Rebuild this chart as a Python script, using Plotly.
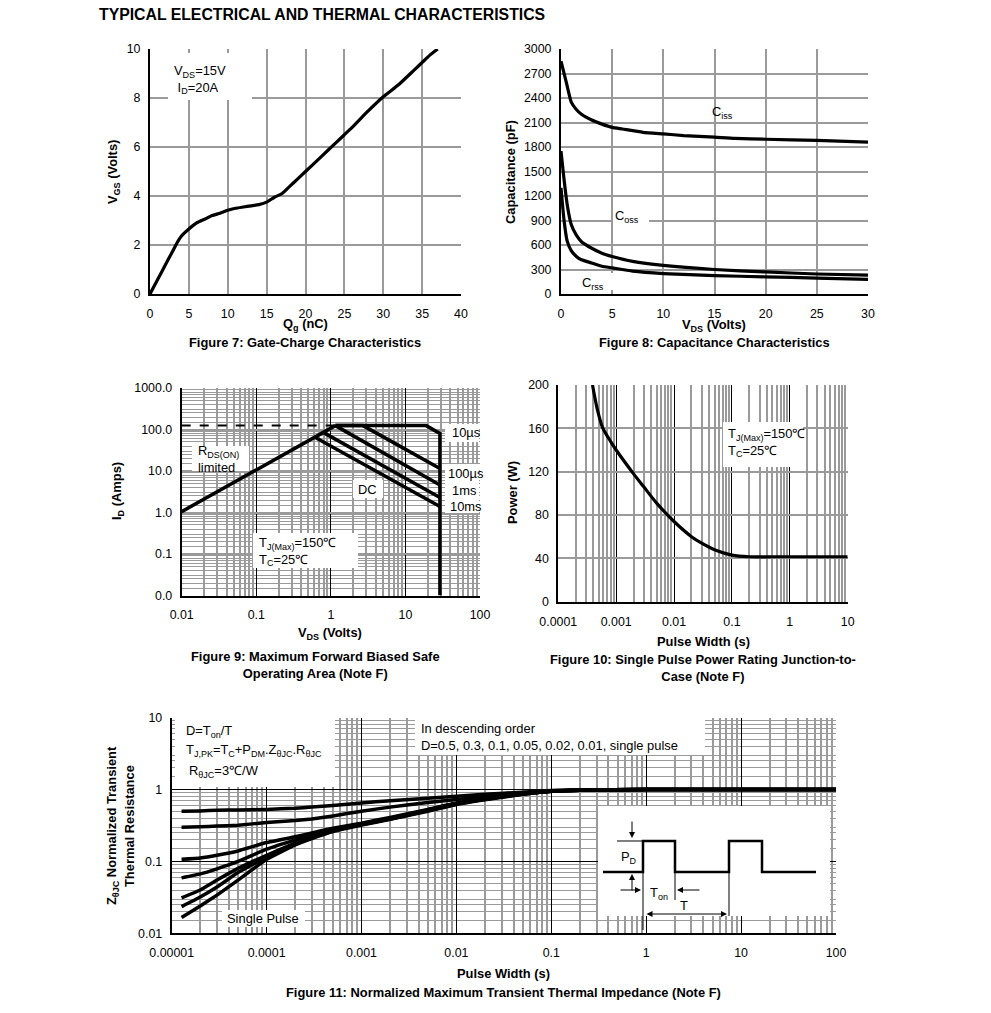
import plotly.graph_objects as go

W, H = 991, 1013
OFF = 8                      # page body margin of the browser
FW, FH = W - OFF, H - OFF    # figure size so the page does not overflow

# ---------------- data ----------------
# Figure 7: gate charge
qg_nc = [0, 1, 2, 3, 3.5, 4, 5, 6, 7, 8, 9, 10, 11, 12, 13, 14, 15, 16, 17, 18, 19, 20,
         22, 24, 25, 26, 28, 30, 32, 34, 35, 36, 37]
vgs_v = [0, 0.6, 1.2, 1.8, 2.1, 2.35, 2.65, 2.9, 3.05, 3.2, 3.3, 3.42, 3.5, 3.55, 3.6, 3.65,
         3.75, 3.95, 4.1, 4.4, 4.7, 5.0, 5.6, 6.2, 6.5, 6.8, 7.45, 8.05, 8.55, 9.15, 9.45, 9.75, 10.0]

# Figure 8: capacitance
vds_ciss = [0, 0.5, 1, 1.5, 2, 3, 4, 5, 6, 8, 10, 12, 15, 17, 20, 25, 30]
ciss_pf = [2850, 2600, 2350, 2260, 2200, 2130, 2080, 2040, 2020, 1980, 1960, 1940, 1920, 1905, 1895, 1880, 1860]
vds_oss = [0, 0.3, 0.6, 1, 1.5, 2, 3, 4, 5, 7, 10, 15, 20, 25, 30]
coss_pf = [1750, 1400, 1100, 850, 720, 640, 560, 500, 460, 400, 350, 300, 270, 245, 230]
crss_pf = [1300, 900, 650, 530, 460, 420, 380, 340, 320, 280, 250, 225, 210, 195, 180]

# Figure 9: SOA
rds_v, rds_i = [0.01, 1.15], [1.05, 124]
lim_v, lim_i = [0.01, 1.15], [124, 124]
us10_v, us10_i = [1.15, 19, 29, 29], [124, 124, 80, 0.01]
us100_v, us100_i = [1.15, 2.7, 29], [124, 124, 11.5]
ms1_v, ms1_i = [1.15, 29], [124, 4.6]
ms10_v, ms10_i = [0.8, 29], [84, 2.3]
dc_v, dc_i = [0.62, 29], [64, 1.4]

# Figure 10: single pulse power
pw_s = [0.00039, 0.00047, 0.00058, 0.0008, 0.001, 0.002, 0.003, 0.005, 0.01, 0.02, 0.03,
        0.05, 0.1, 0.2, 0.5, 1, 10]
pw_w = [200, 178, 161, 148, 140, 118, 106, 91, 74, 60, 54, 48, 43, 41.5, 41.5, 41.5, 41.5]

# Figure 11: transient thermal impedance
zt_s = [1.27e-5, 2e-5, 3e-5, 5e-5, 1e-4, 2e-4, 3e-4, 5e-4, 1e-3, 2e-3, 5e-3, 1e-2, 2e-2,
        5e-2, 1e-1, 0.2, 1, 10, 100]
z_d05 = [0.50, 0.505, 0.515, 0.52, 0.53, 0.55, 0.57, 0.60, 0.65, 0.70, 0.76, 0.81, 0.86, 0.92, 0.97, 0.99, 1.0, 1.0, 1.0]
z_d03 = [0.30, 0.305, 0.31, 0.32, 0.347, 0.37, 0.39, 0.43, 0.50, 0.57, 0.66, 0.73, 0.80, 0.90, 0.96, 0.99, 1.0, 1.0, 1.0]
z_d01 = [0.107, 0.112, 0.122, 0.14, 0.183, 0.22, 0.25, 0.29, 0.34, 0.41, 0.53, 0.65, 0.75, 0.88, 0.95, 0.98, 1.0, 1.0, 1.0]
z_d005 = [0.059, 0.067, 0.079, 0.10, 0.148, 0.20, 0.235, 0.28, 0.335, 0.40, 0.52, 0.64, 0.74, 0.87, 0.95, 0.98, 1.0, 1.0, 1.0]
z_d002 = [0.031, 0.040, 0.055, 0.08, 0.122, 0.18, 0.22, 0.27, 0.33, 0.39, 0.51, 0.63, 0.73, 0.87, 0.95, 0.98, 1.0, 1.0, 1.0]
z_d001 = [0.0235, 0.032, 0.044, 0.07, 0.115, 0.175, 0.215, 0.265, 0.325, 0.39, 0.51, 0.63, 0.73, 0.87, 0.95, 0.98, 1.0, 1.0, 1.0]
z_single = [0.0166, 0.024, 0.034, 0.055, 0.107, 0.17, 0.208, 0.26, 0.32, 0.385, 0.50, 0.62, 0.72, 0.86, 0.95, 0.98, 1.0, 1.0, 1.0]

# tick labels
f9_xticks = [0.01, 0.1, 1, 10, 100]
f9_xtext = ["0.01", "0.1", "1", "10", "100"]
f9_yticks = [0.01, 0.1, 1, 10, 100, 1000]
f9_ytext = ["0.0", "0.1", "1.0", "10.0", "100.0", "1000.0"]
f10_xticks = [0.0001, 0.001, 0.01, 0.1, 1, 10]
f10_xtext = ["0.0001", "0.001", "0.01", "0.1", "1", "10"]
f11_xticks = [1e-5, 1e-4, 1e-3, 1e-2, 1e-1, 1, 10, 100]
f11_xtext = ["0.00001", "0.0001", "0.001", "0.01", "0.1", "1", "10", "100"]
f11_yticks = [0.01, 0.1, 1, 10]
f11_ytext = ["0.01", "0.1", "1", "10"]


# ---------------- helpers (window pixel -> paper fraction) ----------------
def px(x):
    return (x - OFF) / FW


def py(y):
    return 1 - (y - OFF) / FH


def minors(lo_exp, hi_exp, steps=range(2, 10)):
    return [m * 10.0 ** e for e in range(lo_exp, hi_exp) for m in steps]


FONT = "Liberation Sans, Arial, sans-serif"
GRID = "#9a9a9a"
TXT = 12.9

fig = go.Figure()


def line(x, y, ax, width=3.2, dash="solid", shape="spline", smooth=0.5):
    ln = dict(color="black", width=width, dash=dash, shape=shape)
    if shape == "spline":
        ln["smoothing"] = smooth
    fig.add_trace(go.Scatter(x=x, y=y, mode="lines", xaxis="x" + ax, yaxis="y" + ax,
                             line=ln, hoverinfo="skip"))


line(qg_nc, vgs_v, "", 3.2)
line(vds_ciss, ciss_pf, "2", 3.2)
line(vds_oss, coss_pf, "2", 3.2)
line(vds_oss, crss_pf, "2", 3.2)
for xs, ys in [(rds_v, rds_i), (us10_v, us10_i), (us100_v, us100_i), (ms1_v, ms1_i),
               (ms10_v, ms10_i), (dc_v, dc_i)]:
    line(xs, ys, "3", 3.5, shape="linear")
line(lim_v, lim_i, "3", 2, dash="dash", shape="linear")
line(pw_s, pw_w, "4", 3.2, smooth=0.8)
for zz in [z_d05, z_d03, z_d01, z_d005, z_d002, z_d001, z_single]:
    line(zt_s, zz, "5", 3.5, smooth=0.3)


def dom_x(l, r):
    return [px(l), px(r)]


def dom_y(t, b):
    return [py(b), py(t)]


base = dict(showline=True, linecolor="black", linewidth=2, ticks="", zeroline=False,
            automargin=False, tickfont=dict(size=12.4, color="black", family=FONT), showgrid=True)

fig.update_layout(
    template="none",
    xaxis=dict(base, domain=dom_x(150, 461), range=[0, 40], dtick=5, tick0=0, anchor="y",
               gridcolor=GRID, gridwidth=2, ticklabelstandoff=7),
    yaxis=dict(base, domain=dom_y(49, 294), range=[0, 10], dtick=2, tick0=0, anchor="x",
               gridcolor=GRID, gridwidth=2, ticklabelstandoff=5),
    xaxis2=dict(base, domain=dom_x(561, 868), range=[0, 30], dtick=5, tick0=0, anchor="y2",
                gridcolor=GRID, gridwidth=2, ticklabelstandoff=7),
    yaxis2=dict(base, domain=dom_y(49, 294), range=[0, 3000], dtick=300, tick0=0, anchor="x2",
                gridcolor=GRID, gridwidth=2, ticklabelstandoff=5),
    xaxis3=dict(base, type="log", domain=dom_x(181.7, 480), range=[-2, 2], anchor="y3",
                tickvals=f9_xticks, ticktext=f9_xtext, gridcolor="black", gridwidth=1,
                minor=dict(tickvals=minors(-2, 2), showgrid=True, gridcolor=GRID, gridwidth=1.5),
                ticklabelstandoff=7),
    yaxis3=dict(base, type="log", domain=dom_y(388, 595.5), range=[-2, 3], anchor="x3",
                tickvals=f9_yticks, ticktext=f9_ytext, gridcolor=GRID, gridwidth=1.5,
                minor=dict(tickvals=minors(-2, 3, [1.5, 2, 2.5, 3, 4, 5, 6, 7, 8, 9]),
                           showgrid=True, gridcolor=GRID, gridwidth=1.2),
                ticklabelstandoff=5),
    xaxis4=dict(base, type="log", domain=dom_x(558.3, 847.7), range=[-4, 1], anchor="y4",
                tickvals=f10_xticks, ticktext=f10_xtext, gridcolor="black", gridwidth=1,
                minor=dict(tickvals=minors(-4, 1), showgrid=True, gridcolor=GRID, gridwidth=2),
                ticklabelstandoff=7),
    yaxis4=dict(base, domain=dom_y(385, 601.7), range=[0, 200], dtick=40, tick0=0, anchor="x4",
                gridcolor=GRID, gridwidth=2, ticklabelstandoff=5),
    xaxis5=dict(base, type="log", domain=dom_x(171.7, 836), range=[-5, 2], anchor="y5",
                tickvals=f11_xticks, ticktext=f11_xtext, gridcolor="black", gridwidth=1,
                minor=dict(tickvals=minors(-5, 2), showgrid=True, gridcolor=GRID, gridwidth=1.5),
                ticklabelstandoff=7),
    yaxis5=dict(base, type="log", domain=dom_y(717.7, 933.3), range=[-2, 1], anchor="x5",
                tickvals=f11_yticks, ticktext=f11_ytext, gridcolor="black", gridwidth=1,
                minor=dict(tickvals=minors(-2, 1, [1.5, 2, 2.5, 3, 4, 5, 6, 7, 8, 9]),
                           showgrid=True, gridcolor=GRID, gridwidth=1.2),
                ticklabelstandoff=5),
)

shapes = []


def box(x0, y0, x1, y1):
    shapes.append(dict(type="rect", xref="paper", yref="paper", x0=px(x0), x1=px(x1),
                       y0=py(y1), y1=py(y0), fillcolor="white", line=dict(width=0), layer="above"))


def seg(x0, y0, x1, y1, w=1):
    shapes.append(dict(type="line", xref="paper", yref="paper", x0=px(x0), x1=px(x1),
                       y0=py(y0), y1=py(y1), line=dict(color="black", width=w), layer="above"))


# white label boxes
box(168, 53, 252, 100)          # fig7
box(613, 206, 649, 227)         # Coss
box(580, 273, 613, 290)         # Crss
box(192, 446, 249, 471)         # Rds(on)
box(353, 480, 383, 498)         # DC
box(253, 533, 358, 568)         # Tj fig9
box(445, 424, 479, 442)         # 10us
box(445, 464, 479, 513)         # 100us..10ms
box(723, 422, 803, 467)         # Tj fig10
box(175, 718, 335, 787)         # fig11 notes
box(415, 717, 705, 755)         # descending order
box(222, 910, 305, 927)         # single pulse
box(598, 806, 830, 916)         # inset

# inset pulse diagram
pts = [(603, 872), (643, 872), (643, 841), (675, 841), (675, 872), (729, 872), (729, 841),
       (762, 841), (762, 872), (816, 872)]
path = "M" + " L".join(f"{px(a):.5f},{py(b):.5f}" for a, b in pts)
shapes.append(dict(type="path", xref="paper", yref="paper", path=path,
                   line=dict(color="black", width=2.5), layer="above"))
seg(617, 841, 643, 841)
seg(643, 872, 643, 930)
seg(675, 872, 675, 900)
seg(729, 872, 729, 916)

fig.update_layout(shapes=shapes)

ann = []


def text(x, y, t, size=TXT, bold=False, xanchor="center", yanchor="middle", angle=0, align="center"):
    if bold:
        t = "<b>" + t + "</b>"
    ann.append(dict(x=px(x), y=py(y), xref="paper", yref="paper", text=t, showarrow=False,
                    font=dict(size=size, color="black", family=FONT), xanchor=xanchor,
                    yanchor=yanchor, textangle=angle, align=align))


def arrow(hx, hy, tx, ty, side="end"):
    ann.append(dict(x=px(hx), y=py(hy), xref="paper", yref="paper", text="", showarrow=True,
                    ax=tx - hx, ay=ty - hy, arrowhead=2, arrowsize=1.2, arrowwidth=1,
                    arrowcolor="black", arrowside=side, standoff=0, startstandoff=0,
                    startarrowhead=2, startarrowsize=1.2))


text(97, 14.5, "TYPICAL ELECTRICAL AND THERMAL CHARACTERISTICS", size=15.8, bold=True, xanchor="left")

# fig 7
text(305, 325, "Q<sub>g</sub> (nC)", bold=True)
text(113, 172, "V<sub>GS</sub> (Volts)", bold=True, angle=-90)
text(305, 343, "Figure 7: Gate-Charge Characteristics", bold=True)
text(172, 80, "V<sub>DS</sub>=15V<br> I<sub>D</sub>=20A", xanchor="left", align="left")

# fig 8
text(714, 326, "V<sub>DS</sub> (Volts)", bold=True)
text(510, 172, "Capacitance (pF)", bold=True, angle=-90)
text(714, 343, "Figure 8: Capacitance Characteristics", bold=True)
text(722, 113, "C<sub>iss</sub>")
text(627, 216, "C<sub>oss</sub>")
text(593, 283, "C<sub>rss</sub>")

# fig 9
text(330, 633, "V<sub>DS</sub> (Volts)", bold=True)
text(118, 491, "I<sub>D</sub> (Amps)", bold=True, angle=-90)
text(315, 665, "Figure 9: Maximum Forward Biased Safe<br>Operating Area (Note F)", bold=True)
text(196, 459, "R<sub>DS(ON)</sub><br>limited", xanchor="left", align="left")
text(367, 489, "DC")
text(257, 551, "T<sub>J(Max)</sub>=150℃<br>T<sub>C</sub>=25℃", xanchor="left", align="left")
text(450, 433, "10µs", xanchor="left")
text(446, 473, "100µs", xanchor="left")
text(450, 490, "1ms", xanchor="left")
text(448, 506, "10ms", xanchor="left")

# fig 10
text(703, 641, "Pulse Width (s)", bold=True)
text(512, 493, "Power (W)", bold=True, angle=-90)
text(703, 668, "Figure 10: Single Pulse Power Rating Junction-to-<br>Case (Note F)", bold=True)
text(726, 443, "T<sub>J(Max)</sub>=150℃<br>T<sub>C</sub>=25℃", xanchor="left", align="left")

# fig 11
text(503, 973, "Pulse Width (s)", bold=True)
text(503, 992, "Figure 11: Normalized Maximum Transient Thermal Impedance (Note F)", bold=True)
text(112, 826, "Z<sub>θJC</sub> Normalized Transient", bold=True, angle=-90)
text(129, 826, "Thermal Resistance", bold=True, angle=-90)
text(184, 731, "D=T<sub>on</sub>/T", xanchor="left")
text(184, 750, "T<sub>J,PK</sub>=T<sub>C</sub>+P<sub>DM</sub>.Z<sub>θJC</sub>.R<sub>θJC</sub>", xanchor="left")
text(187, 771, "R<sub>θJC</sub>=3℃/W", xanchor="left")
text(419, 728, "In descending order", xanchor="left")
text(419, 745, "D=0.5, 0.3, 0.1, 0.05, 0.02, 0.01, single pulse", xanchor="left")
text(263, 918, "Single Pulse")
text(629, 857, "P<sub>D</sub>")
text(659, 893, "T<sub>on</sub>")
text(684, 905, "T")

arrow(632, 838, 632, 820)
arrow(632, 874, 632, 892)
arrow(641, 890, 619, 890)
arrow(677, 890, 701, 890)
arrow(727, 914, 645, 914, side="end+start")

fig.update_layout(annotations=ann, width=FW, height=FH,
                  margin=dict(l=0, r=0, t=0, b=0, pad=0, autoexpand=False),
                  paper_bgcolor="white", plot_bgcolor="white", showlegend=False,
                  font=dict(family=FONT, color="black"))

fig.write_html("out.html")
